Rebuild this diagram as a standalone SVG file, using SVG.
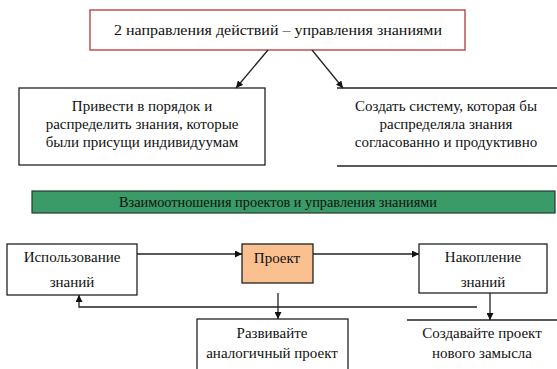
<svg xmlns="http://www.w3.org/2000/svg" width="557" height="369" viewBox="0 0 557 369">
<defs>
<style>
text{font-family:"Liberation Serif","Times New Roman","DejaVu Serif",serif;font-size:15px;fill:#111;text-anchor:middle}
.box{fill:#fff;stroke:#222;stroke-width:1.3}
.ln{fill:none;stroke:#222;stroke-width:1.3}
.c{fill:none;stroke:#222;stroke-width:1.3}
</style>
<marker id="ah" viewBox="0 0 10 10" refX="10" refY="5" markerWidth="7" markerHeight="7" orient="auto" markerUnits="userSpaceOnUse">
<path d="M0,0 L10,5 L0,10 z" fill="#111"/>
</marker>
</defs>
<rect width="557" height="369" fill="#fff"/>
<g id="top">
<rect x="90" y="10" width="375" height="40" fill="#fff" stroke="#c0504d" stroke-width="1.5"/>
<text x="278" y="35" textLength="328" lengthAdjust="spacingAndGlyphs">2 направления действий – управления знаниями</text>
</g>
<g id="left">
<rect class="box" x="19" y="88" width="246" height="77"/>
<text x="142" y="111">Привести в порядок и</text>
<text x="142" y="129">распределить знания, которые</text>
<text x="142" y="147">были присущи индивидуумам</text>
</g>
<g id="right">
<line class="ln" x1="337" y1="88" x2="557" y2="88"/>
<line class="ln" x1="337" y1="166" x2="557" y2="166"/>
<text x="446" y="111">Создать систему, которая бы</text>
<text x="446" y="129">распределяла знания</text>
<text x="446" y="147">согласованно и продуктивно</text>
</g>
<g id="banner">
<rect x="32" y="191" width="523" height="22" fill="#3a9a68" stroke="#1e3d2c" stroke-width="1.2"/>
<text x="278" y="207" textLength="318" lengthAdjust="spacingAndGlyphs">Взаимоотношения проектов и управления знаниями</text>
</g>
<g id="use">
<rect class="box" x="7" y="244" width="130" height="51"/>
<text x="72" y="262">Использование</text>
<text x="72" y="287">знаний</text>
</g>
<g id="project">
<rect x="242" y="244" width="71" height="39" fill="#fac090" stroke="#222" stroke-width="1.3"/>
<text x="277" y="263">Проект</text>
</g>
<g id="accum">
<rect class="box" x="419" y="244" width="128" height="49"/>
<text x="483" y="262">Накопление</text>
<text x="483" y="287">знаний</text>
</g>
<g id="analog">
<rect class="box" x="197" y="319" width="151" height="60"/>
<text x="272" y="338">Развивайте</text>
<text x="272" y="358">аналогичный проект</text>
</g>
<g id="new">
<line class="ln" x1="407" y1="320" x2="557" y2="320"/>
<text x="482" y="338">Создавайте проект</text>
<text x="482" y="358">нового замысла</text>
</g>
<g id="connectors">
<line class="c" x1="268" y1="50" x2="236" y2="88" marker-end="url(#ah)"/>
<line class="c" x1="312" y1="50" x2="343" y2="88" marker-end="url(#ah)"/>
<line class="c" x1="137" y1="254" x2="242" y2="254" marker-end="url(#ah)"/>
<line class="c" x1="313" y1="254" x2="419" y2="254" marker-end="url(#ah)"/>
<line class="c" x1="278" y1="293" x2="278" y2="319" marker-end="url(#ah)"/>
<line class="c" x1="490" y1="293" x2="490" y2="320" marker-end="url(#ah)"/>
<polyline class="c" points="477,307 79,307 79,295" marker-end="url(#ah)"/>
</g>
</svg>
